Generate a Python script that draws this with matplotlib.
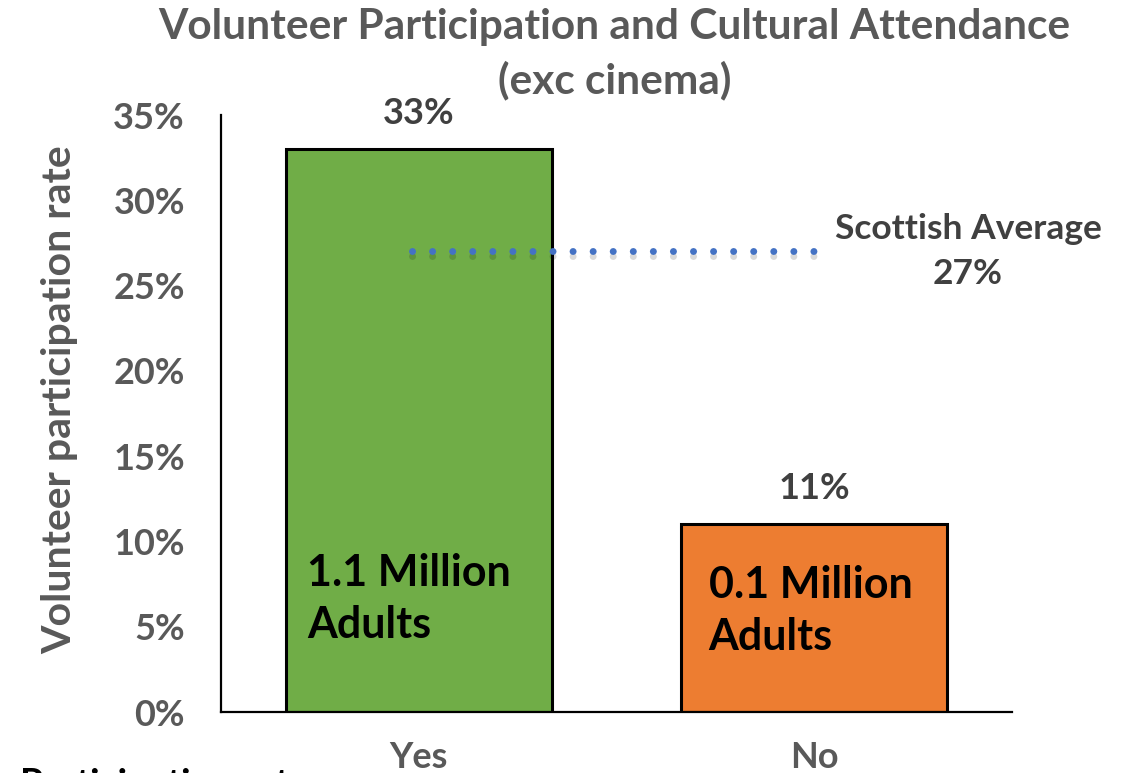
import numpy as np
import matplotlib
matplotlib.use("Agg")
import matplotlib.pyplot as plt
import matplotlib.patheffects as pe

# volunteer participation by cultural attendance (excluding cinema)
categories = ["Yes", "No"]
rates = [0.33, 0.11]
adult_labels = ["1.1 Million\nAdults", "0.1 Million\nAdults"]
scottish_average = 0.27

bar_colors = ["#70AD47", "#ED7D31"]
avg_color = "#4472C4"
grey = "#595959"
dark = "#404040"

plt.rcParams["font.family"] = ["Lato", "DejaVu Sans"]
plt.rcParams["font.weight"] = "bold"

fig = plt.figure(figsize=(11.32, 7.73), dpi=100)
ax = fig.add_axes([0.1952, 0.0789, 0.6988, 0.7723])

x = np.arange(len(categories))
width = 0.672
shadow = [pe.SimplePatchShadow(offset=(0, -1.5), shadow_rgbFace="#000000", alpha=0.18), pe.Normal()]
bars = ax.bar(x, rates, width=width, color=bar_colors, edgecolor="black", linewidth=2.2, zorder=2)
for b in bars:
    b.set_path_effects(shadow)

# value labels above the bars
for xi, r in zip(x, rates):
    ax.annotate(f"{r:.0%}", (xi, r), xytext=(0, 26), textcoords="offset points",
                ha="center", va="center", fontsize=26, fontweight="bold", color=dark)

# adult counts inside the bars
inner_dx = [0.054, 0.069]
inner_y = [0.0662, 0.0592]
for xi, dx, y, lab in zip(x, inner_dx, inner_y, adult_labels):
    ax.text(xi - width / 2 + dx, y, lab, ha="left", va="center", fontsize=31,
            fontweight="bold", color="black", linespacing=1.38, zorder=4)

# Scottish average as a dotted line
ax.plot([-0.018, 1.0], [scottish_average, scottish_average], color=avg_color,
        linewidth=5, linestyle=(0, (0.01, 2.88)), dash_capstyle="round", zorder=3,
        path_effects=[pe.SimpleLineShadow(offset=(0, -3), shadow_color="black", alpha=0.15), pe.Normal()])
ax.text(1.389, scottish_average - 0.0001, f"Scottish Average\n{scottish_average:.0%}", ha="center",
        va="center", fontsize=25.5, fontweight="bold", color=dark, linespacing=1.51)

ax.set_xlim(-0.5, 1.5)
ax.set_ylim(0, 0.35)
ticks = np.arange(0, 0.351, 0.05)
ax.set_yticks(ticks)
ax.set_yticklabels([f"{t:.0%}" for t in ticks])
ax.set_xticks(x)
ax.set_xticklabels(categories)
ax.tick_params(axis="both", length=0, labelsize=26, labelcolor=grey)
ax.tick_params(axis="y", pad=26)
ax.tick_params(axis="x", pad=21)
for lab in ax.get_xticklabels() + ax.get_yticklabels():
    lab.set_fontweight("bold")

for side in ["top", "right"]:
    ax.spines[side].set_visible(False)
for side in ["left", "bottom"]:
    ax.spines[side].set_linewidth(1.6)
    ax.spines[side].set_color("black")

ax.set_ylabel("Volunteer participation rate", fontsize=29.5, fontweight="bold", color=grey)
ax.yaxis.set_label_coords(-0.18, 0.523)

fig.text(0.543, 0.99, "Volunteer Participation and Cultural Attendance\n(exc cinema)", ha="center",
         va="top", fontsize=30.5, fontweight="bold", color=grey, linespacing=1.45)

# axis title sits mostly below the canvas edge
fig.text(0.018, -0.016, "Participation rate", ha="left", va="center", fontsize=27,
         fontweight="bold", color="black")

fig.savefig("out.png", dpi=100)
